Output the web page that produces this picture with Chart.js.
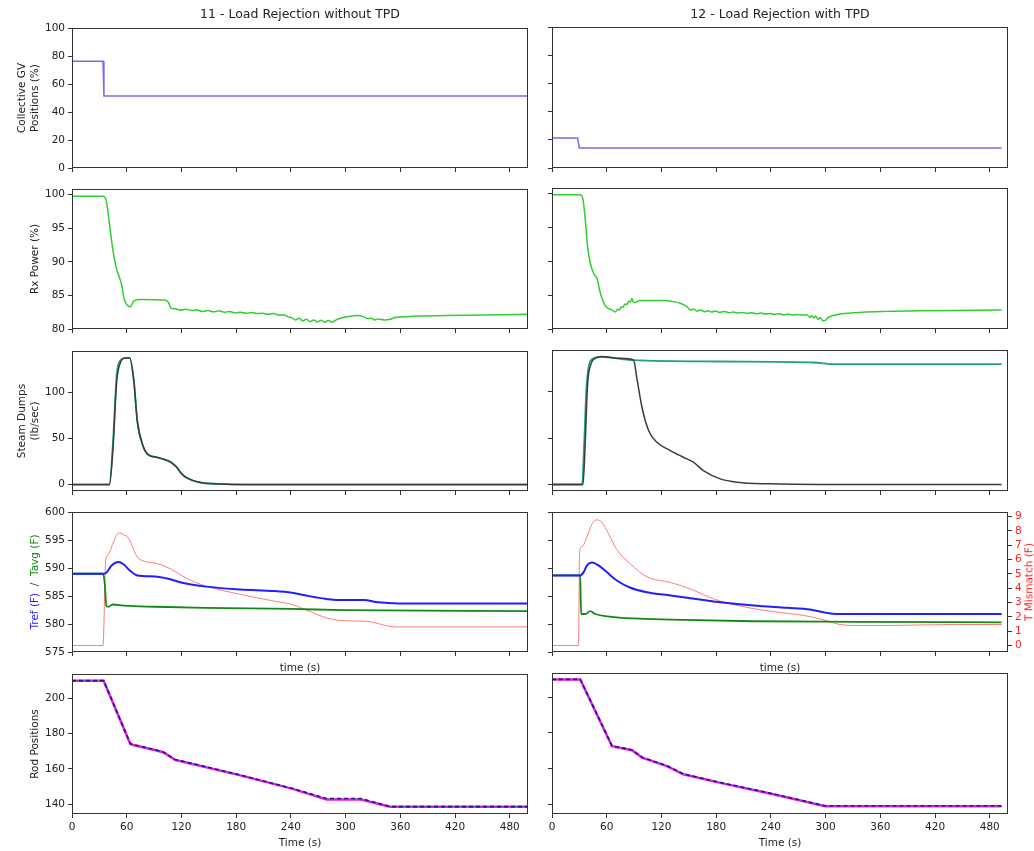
<!DOCTYPE html>
<html>
<head>
<meta charset="utf-8">
<script src="https://cdn.jsdelivr.net/npm/chart.js@4.4.0/dist/chart.umd.min.js"></script>
<style>
body { margin: 0; background: #fff; font-family: 'DejaVu Sans', sans-serif; }
#fig { position: relative; width: 1034px; height: 851px; overflow: hidden; }
.panel { position: absolute; }
.txt { position: absolute; white-space: nowrap; color: #222; font-size: 10.5px; line-height: 1.25; text-align: center; }
</style>
</head>
<body>
<div id="fig"></div>
<script>
// tick labels
var xTicks = [0, 60, 120, 180, 240, 300, 360, 420, 480];
var gvTicks = [0, 20, 40, 60, 80, 100];
var powerTicks = [80, 85, 90, 95, 100];
var dumpTicks = [0, 50, 100];
var tempTicks = [575, 580, 585, 590, 595, 600];
var mismatchTicks = [0, 1, 2, 3, 4, 5, 6, 7, 8, 9];
var rodTicks = [140, 160, 180, 200];

// 11 - without TPD
var gvTimeL = [0, 34, 35, 500];
var gvL = [76.5, 76.5, 51.5, 51.5];

var powerTimeL = [0, 34, 37.7, 40.7, 44.5, 47.9, 52, 54.7, 57.3, 61, 64, 67.9, 75.4, 101.8, 105.6, 108.6, 113,
	119, 125, 131, 137, 143, 149, 155, 161, 167, 173, 179, 185, 191, 197, 203, 209, 215, 221, 227, 233, 237,
	241, 245, 249, 253, 257, 261, 265, 269, 273, 277, 281, 285, 289, 294, 303, 313, 320, 324, 328, 332, 336,
	343, 350, 354, 363, 373, 411, 500];
var powerL = [99.75, 99.75, 99.0, 96.0, 92.1, 89.4, 87.7, 86.4, 84.4, 83.5, 83.3, 84.2, 84.4, 84.3, 84.0, 83.1, 83.0,
	82.8, 82.95, 82.75, 82.85, 82.6, 82.75, 82.55, 82.7, 82.5, 82.6, 82.4, 82.5, 82.35, 82.45, 82.3, 82.35, 82.2, 82.3, 82.05, 82.1, 81.8,
	81.7, 81.35, 81.6, 81.2, 81.45, 81.1, 81.35, 81.05, 81.3, 81.0, 81.25, 81.0, 81.3, 81.6, 81.85, 82.0, 81.8, 81.55, 81.6, 81.35, 81.5,
	81.35, 81.5, 81.7, 81.8, 81.9, 82.0, 82.2];

var dumpTimeL = [0, 41, 45, 49, 52.8, 58.4, 63.3, 67.9, 71.6, 77.3, 83, 94, 109, 115, 120, 126, 139.5, 162, 192, 500];
var dumpAL = [0, 0, 47, 119, 135, 137.6, 137.6, 112, 69, 43.7, 33, 29.4, 24, 18.6, 12, 7.2, 2.5, 0.7, 0, 0];
var dumpBL = [0, 0, 40, 112, 132, 137.6, 137.6, 112, 69, 43.7, 33, 29.4, 24, 18.6, 12, 7.2, 2.5, 0.7, 0, 0];

var trefTimeL = [0, 34, 37.7, 43, 51, 56.5, 64, 71.6, 90.5, 105.6, 120.6, 147, 184.7, 222, 241, 260, 279, 290, 320, 335.5, 358, 500];
var trefL = [589, 589, 589.2, 590.4, 591.1, 590.7, 589.5, 588.7, 588.5, 588.1, 587.4, 586.7, 586.2, 585.9, 585.6, 585.0, 584.5, 584.3, 584.3, 583.9, 583.7, 583.7];
var tavgTimeL = [0, 34, 35.8, 37.7, 39.6, 45, 56.5, 90.5, 147, 241, 298, 500];
var tavgL = [589, 589, 587.4, 583.2, 583.1, 583.5, 583.3, 583.1, 582.9, 582.7, 582.5, 582.3];
var mismatchTimeL = [0, 34, 37, 39.6, 45, 51, 56.5, 62, 66, 71.6, 79, 94, 109, 124, 147, 184.7, 222, 241, 260, 279, 294, 320, 328, 354, 500];
var mismatchL = [0, 0, 5.98, 6.34, 7.15, 7.86, 7.74, 7.5, 6.92, 6.18, 5.89, 5.71, 5.32, 4.74, 4.15, 3.57, 3.1, 2.87, 2.4, 1.93, 1.75, 1.7, 1.65, 1.3, 1.3];

var rodTimeL = [0, 34.7, 64, 66, 90.5, 100, 113, 120.6, 184.7, 241, 279, 316.7, 348.7, 500];
var rodAL = [210, 210, 174.3, 173.9, 170.9, 169.6, 165.3, 164.4, 156.5, 149.0, 143.2, 143.2, 138.6, 138.6];
var rodBL = [210, 210, 174.1, 173.7, 170.7, 169.4, 165.1, 164.2, 156.3, 148.8, 142.6, 142.6, 138.5, 138.5];

// 12 - with TPD
var gvTimeR = [0, 28, 30, 493];
var gvR = [21.3, 21.3, 14.2, 14.2];

var powerTimeR = [0, 31, 34, 36.5, 39, 42, 46.4, 49.3, 53, 58.5, 64, 67, 69.4, 72, 74, 76, 78, 80, 82, 84, 86, 87.7, 89, 91, 94, 97,
	119, 135, 140.7, 148, 152, 155, 159, 163, 167, 171, 175, 179, 184, 189, 194, 199, 204, 209, 214, 219, 224, 229, 234, 239,
	244, 249, 254, 259, 264, 269, 274, 279.5, 283, 285, 287, 289, 292, 294, 297, 300, 303, 316, 331, 367, 404, 493];
var powerR = [99.8, 99.8, 99.1, 96.1, 92.2, 89.7, 88.0, 87.5, 85.3, 83.4, 82.9, 82.7, 82.5, 82.9, 82.8, 83.3, 83.2, 83.7, 83.6, 84.1, 84.0, 84.5, 84.0, 83.9, 84.1, 84.2,
	84.2, 84.0, 83.8, 83.3, 82.8, 82.95, 82.65, 82.8, 82.55, 82.7, 82.5, 82.65, 82.45, 82.6, 82.4, 82.5, 82.35, 82.45, 82.3, 82.4, 82.25, 82.35, 82.2, 82.3,
	82.15, 82.25, 82.1, 82.2, 82.05, 82.15, 82.05, 82.1, 81.7, 82.0, 81.6, 81.9, 81.4, 81.7, 81.2, 81.3, 81.7, 82.2, 82.4, 82.6, 82.7, 82.8];

var dumpTimeAR = [0, 33, 35.4, 37.6, 40, 44, 53, 89.5, 184.5, 287, 309, 493];
var dumpAR = [0, 0, 47, 101, 126, 135, 137.6, 134, 132.6, 131.5, 129.7, 129.7];
var dumpTimeBR = [0, 34, 36.5, 39, 42.8, 47.5, 54.8, 75, 89.5, 93, 98.7, 106, 115, 129.7, 144, 155, 166, 184.5, 203, 239, 294, 493];
var dumpBR = [0, 0, 47, 108, 130, 136, 138, 136, 134, 115, 83, 58, 45.5, 36.6, 29.4, 24, 15, 6.1, 2.5, 0.7, 0, 0];

var trefTimeR = [0, 31, 34.7, 38.4, 44, 51, 60, 71, 86, 104, 130, 166, 184.5, 221, 257.6, 283, 301, 312, 493];
var trefR = [588.7, 588.7, 589.3, 590.5, 591.0, 590.5, 589.3, 587.8, 586.5, 585.7, 585.1, 584.3, 583.9, 583.3, 582.9, 582.6, 582.0, 581.8, 581.8];
var tavgTimeR = [0, 31, 31.5, 32, 36.5, 42, 47.5, 67.6, 89.5, 130, 221, 331, 493];
var tavgR = [588.7, 588.7, 584.2, 581.8, 581.8, 582.3, 581.8, 581.25, 581.0, 580.8, 580.5, 580.4, 580.3];
var mismatchTimeR = [0, 29, 30.3, 33, 38.4, 44, 49.3, 54.8, 62, 71, 86, 104, 130, 151.6, 177, 203, 239, 276, 294, 316, 331, 367, 440, 493];
var mismatchR = [0, 0, 6.6, 6.9, 7.6, 8.5, 8.77, 8.6, 7.8, 6.7, 5.7, 4.8, 4.4, 3.95, 3.26, 2.8, 2.4, 2.1, 1.86, 1.47, 1.4, 1.4, 1.47, 1.47];

var rodTimeR = [0, 31, 65.8, 87.7, 98.7, 126, 144, 184.5, 239, 299.6, 493];
var rodAR = [210, 210, 172.7, 170.4, 166.3, 161.5, 156.9, 152.1, 146.1, 139.0, 139.0];
var rodBR = [210, 210, 172.5, 170.2, 166.1, 161.3, 156.7, 151.9, 145.9, 138.8, 138.8];

// figure geometry
var COLS = [72, 552];
var ROWS = [27, 188, 350, 511, 673];
var PW = 456, PH = 141;
var PADL = 48, PADT = 8, PADB = 24;
var INK = '#333';
var fig = document.getElementById('fig');

Chart.defaults.font.family = "'DejaVu Sans', sans-serif";
Chart.defaults.font.size = 10.5;
Chart.defaults.color = '#222';

function pts(t, v) {
	return t.map(function (x, i) { return {x: x, y: v[i]}; });
}

function line(t, v, color, width, opts) {
	opts = opts || {};
	return {
		data: pts(t, v),
		borderColor: color,
		borderWidth: width,
		borderDash: opts.dash || [],
		pointRadius: 0,
		cubicInterpolationMode: opts.smooth ? 'monotone' : 'default',
		tension: 0,
		yAxisID: opts.axis || 'y'
	};
}

function tickSet(values) {
	return function (scale) {
		scale.ticks = values.map(function (v) { return {value: v}; });
	};
}

// box round every plot area
var frame = {
	id: 'frame',
	afterDraw: function (chart) {
		var a = chart.chartArea, c = chart.ctx;
		c.save();
		c.strokeStyle = INK;
		c.lineWidth = 1;
		c.strokeRect(Math.round(a.left) + 0.5, Math.round(a.top) + 0.5, Math.round(a.right - a.left) - 1, Math.round(a.bottom - a.top) - 1);
		c.restore();
	}
};

function panel(col, row, datasets, y, twin) {
	var showTwin = twin && col == 1;
	var padR = showTwin ? 34 : 6;
	var w = PW + PADL + padR, h = PH + PADT + PADB;
	var div = document.createElement('div');
	div.className = 'panel';
	div.style.left = (COLS[col] - PADL) + 'px';
	div.style.top = (ROWS[row] - PADT) + 'px';
	div.style.width = w + 'px';
	div.style.height = h + 'px';
	var cv = document.createElement('canvas');
	cv.width = w;
	cv.height = h;
	div.appendChild(cv);
	fig.appendChild(div);

	var scales = {
		x: {
			type: 'linear', min: 0, max: 500,
			afterBuildTicks: tickSet(xTicks),
			afterFit: function (s) { s.height = PADB; },
			ticks: {display: row == 4, padding: 3, maxRotation: 0, autoSkip: false},
			grid: {drawOnChartArea: false, tickLength: 4, color: INK},
			border: {display: false}
		},
		y: {
			type: 'linear', min: y.min, max: y.max,
			afterBuildTicks: tickSet(y.ticks),
			afterFit: function (s) { s.width = PADL; },
			ticks: {display: col == 0, padding: 3, autoSkip: false},
			grid: {drawOnChartArea: false, tickLength: 4, color: INK},
			border: {display: false}
		}
	};
	if (twin) {
		// the left panel keeps the mismatch scale but does not show it
		scales.y2 = {
			type: 'linear', position: 'right', min: -0.45, max: 9.3,
			display: showTwin,
			afterBuildTicks: tickSet(mismatchTicks),
			ticks: {color: '#ff2020', padding: 3, autoSkip: false},
			grid: {drawOnChartArea: false, tickLength: 4, color: INK},
			border: {display: false}
		};
		if (showTwin) scales.y2.afterFit = function (s) { s.width = padR; };
	}

	return new Chart(cv, {
		type: 'line',
		data: {datasets: datasets},
		options: {
			responsive: false,
			animation: false,
			devicePixelRatio: 1,
			layout: {padding: {top: PADT, right: showTwin ? 0 : padR, left: 0, bottom: 0}},
			plugins: {legend: {display: false}, tooltip: {enabled: false}},
			scales: scales
		},
		plugins: [frame]
	});
}

function text(html, x, y, opts) {
	opts = opts || {};
	var d = document.createElement('div');
	d.className = 'txt';
	d.innerHTML = html;
	d.style.left = x + 'px';
	d.style.top = y + 'px';
	if (opts.size) d.style.fontSize = opts.size + 'px';
	if (opts.color) d.style.color = opts.color;
	d.style.transform = 'translate(-50%, -50%)' + (opts.rotate ? ' rotate(-90deg)' : '');
	fig.appendChild(d);
}

var gvY = {min: 0, max: 100, ticks: gvTicks};
var powerY = {min: 80, max: 100.8, ticks: powerTicks};
var dumpY = {min: -7, max: 145, ticks: dumpTicks};
var tempY = {min: 575, max: 600, ticks: tempTicks};
var rodY = {min: 134.4, max: 213.6, ticks: rodTicks};

// collective GV positions
panel(0, 0, [line(gvTimeL, gvL, '#7b68ee', 1.5)], gvY);
panel(1, 0, [line(gvTimeR, gvR, '#7b68ee', 1.5)], gvY);

// reactor power
panel(0, 1, [line(powerTimeL, powerL, '#32cd32', 1.5, {smooth: true})], powerY);
panel(1, 1, [line(powerTimeR, powerR, '#32cd32', 1.5, {smooth: true})], powerY);

// steam dumps
panel(0, 2, [
	line(dumpTimeL, dumpBL, '#3c3c3c', 1.5, {smooth: true}),
	line(dumpTimeL, dumpAL, '#22a07c', 1.8, {smooth: true})
], dumpY);
panel(1, 2, [
	line(dumpTimeBR, dumpBR, '#3c3c3c', 1.5, {smooth: true}),
	line(dumpTimeAR, dumpAR, '#22a07c', 1.8, {smooth: true})
], dumpY);

// Tref / Tavg with T mismatch on the twin axis
panel(0, 3, [
	line(trefTimeL, trefL, '#1f1fff', 2, {smooth: true}),
	line(tavgTimeL, tavgL, '#138a13', 1.8, {smooth: true}),
	line(mismatchTimeL, mismatchL, '#ff7b7b', 1, {smooth: true, axis: 'y2'})
], tempY, true);
panel(1, 3, [
	line(trefTimeR, trefR, '#1f1fff', 2, {smooth: true}),
	line(tavgTimeR, tavgR, '#138a13', 1.8, {smooth: true}),
	line(mismatchTimeR, mismatchR, '#ff7b7b', 1, {smooth: true, axis: 'y2'})
], tempY, true);

// rod positions
panel(0, 4, [
	line(rodTimeL, rodAL, '#1a1a80', 1.6, {dash: [4, 3]}),
	line(rodTimeL, rodBL, '#e619e6', 2.5)
], rodY);
panel(1, 4, [
	line(rodTimeR, rodAR, '#1a1a80', 1.6, {dash: [4, 3]}),
	line(rodTimeR, rodBR, '#e619e6', 2.5)
], rodY);

// titles and axis labels
text('11 - Load Rejection without TPD', COLS[0] + PW / 2, 14, {size: 12.5});
text('12 - Load Rejection with TPD', COLS[1] + PW / 2, 14, {size: 12.5});

var mid = ROWS.map(function (r) { return r + PH / 2; });
text('Collective GV<br>Positions (%)', 28, mid[0], {rotate: true});
text('Rx Power (%)', 35, mid[1], {rotate: true});
text('Steam Dumps<br>(lb/sec)', 28, mid[2], {rotate: true});
text('<span style="color:#1f1fff">Tref (F)</span>&nbsp; / &nbsp;<span style="color:#138a13">Tavg (F)</span>', 35, mid[3], {rotate: true});
text('Rod Positions', 35, mid[4], {rotate: true});
text('T Mismatch (F)', 1029, mid[3], {rotate: true, color: '#ff2020'});

text('time (s)', COLS[0] + PW / 2, 668);
text('time (s)', COLS[1] + PW / 2, 668);
text('Time (s)', COLS[0] + PW / 2, 843);
text('Time (s)', COLS[1] + PW / 2, 843);
</script>
</body>
</html>
